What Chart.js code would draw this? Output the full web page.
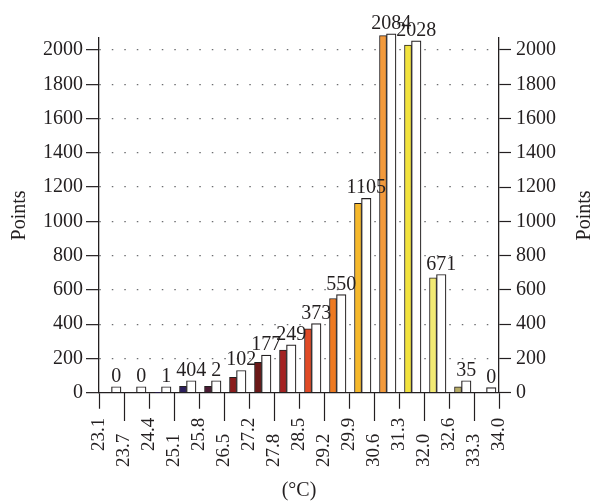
<!DOCTYPE html>
<html>
<head>
<meta charset="utf-8">
<script src="https://cdn.jsdelivr.net/npm/chart.js@4.4.0/dist/chart.umd.min.js"></script>
<style>
    html, body { margin: 0; padding: 0; background: #fff; }
    #grafico-wrap { width: 597px; height: 504px; }
</style>
</head>
<body>
<div id="grafico-wrap"><canvas id="grafico-temperatura"></canvas></div>
<script>
// Limites das faixas de temperatura (eixo x)
let limitesTemperatura = ["23.1", "23.7", "24.4", "25.1", "25.8", "26.5", "27.2", "27.8", "28.5",
    "29.2", "29.9", "30.6", "31.3", "32.0", "32.6", "33.3", "34.0"
];

// Barras coloridas
let pontosCor = [0, 0, 1, 38, 38, 90, 177, 249, 373, 550, 1105, 2084, 2028, 671, 35, 0];

// Barras brancas
let pontosBranco = [35, 35, 35, 70, 70, 130, 220, 280, 403, 573, 1134, 2094, 2053, 690, 70, 30];

// Rótulos escritos sobre as barras
let rotulosBarras = ["0", "0", "1", "404", "2", "102", "177", "249", "373", "550", "1105", "2084", "2028", "671", "35", "0"];

// Cores das barras coloridas
let coresBarras = ["#241a50", "#241a50", "#241a50", "#2c1f5e", "#4a1a32", "#8a1c1c", "#6b1818", "#a42222",
    "#e04a26", "#ee7a22", "#f5b82c", "#f39a3c", "#f1e23e", "#f2ea74", "#b6ab66", "#9a9a70"
];

const corTexto = "#231f20";
const fonteCss = "20px 'Liberation Serif', 'DejaVu Serif', serif";
const fonte = { family: "'Liberation Serif', 'DejaVu Serif', serif", size: 20 };
const fonteX = { family: "'Liberation Serif', 'DejaVu Serif', serif", size: 19 };

// Plugin para escrever os valores acima das barras e o título do eixo direito
const pluginRotulos = {
    id: "rotulosBarras",
    afterDatasetsDraw(chart) {
        const ctx = chart.ctx;
        const metaCor = chart.getDatasetMeta(0);
        const metaBranco = chart.getDatasetMeta(1);
        ctx.save();
        ctx.font = fonteCss;
        ctx.fillStyle = corTexto;
        ctx.textAlign = "center";
        ctx.textBaseline = "alphabetic";
        metaBranco.data.forEach((barra, i) => {
            const topo = Math.min(barra.y, metaCor.data[i].y);
            ctx.fillText(rotulosBarras[i], barra.x, topo - 5);
        });
        ctx.restore();
    },
    afterDraw(chart) {
        // título do eixo direito, lido de baixo para cima como o da esquerda
        const ctx = chart.ctx;
        const area = chart.chartArea;
        ctx.save();
        ctx.font = fonteCss;
        ctx.fillStyle = corTexto;
        ctx.textAlign = "center";
        ctx.textBaseline = "middle";
        ctx.translate(chart.width - 12, (area.top + area.bottom) / 2);
        ctx.rotate(-Math.PI / 2);
        ctx.fillText("Points", 0, 0);
        ctx.restore();
    }
};

// Criando estrutura para plotar gráfico - dados
let dadosTemperatura = {
    datasets: [{
        label: "Cor",
        data: pontosCor.map((v, i) => ({ x: i + 0.5, y: v })),
        backgroundColor: coresBarras,
        borderColor: corTexto,
        borderWidth: 1,
        barThickness: 7,
        clip: false,
        xAxisID: "x",
        yAxisID: "y"
    },
    {
        label: "Branco",
        data: pontosBranco.map((v, i) => ({ x: i + 0.5, y: v })),
        backgroundColor: "#ffffff",
        borderColor: corTexto,
        borderWidth: 1.2,
        barThickness: 9.5,
        clip: false,
        xAxisID: "x",
        yAxisID: "y"
    }]
};

const soPares = s => { s.ticks = s.ticks.filter(t => t.value % 2 === 0); };
const soImpares = s => { s.ticks = s.ticks.filter(t => t.value % 2 === 1); };
const soCentenas = s => { s.ticks = s.ticks.filter(t => t.value % 200 === 0 && t.value <= 2000); };

// Criando estrutura para plotar gráfico - config
const configTemperatura = {
    type: "bar",
    data: dadosTemperatura,
    options: {
        responsive: true,
        maintainAspectRatio: false,
        animation: false,
        layout: { padding: { top: 38, left: 8, right: 36, bottom: 0 } },
        plugins: {
            legend: { display: false },
            tooltip: { enabled: false }
        },
        scales: {
            x: {
                type: "linear",
                position: "bottom",
                min: 0,
                max: 16,
                offset: false,
                afterBuildTicks: soPares,
                ticks: {
                    stepSize: 1, maxTicksLimit: 30, autoSkip: false, minRotation: 90, maxRotation: 90,
                    padding: 9, color: corTexto, font: fonteX,
                    callback: v => limitesTemperatura[v]
                },
                grid: { drawOnChartArea: false, offset: false, tickLength: 16, tickColor: corTexto, tickWidth: 1.2 },
                border: { color: corTexto, width: 1.3 },
                title: { display: true, text: "(°C)", color: corTexto, font: fonte, padding: { top: 19, bottom: 1 } }
            },
            x2: {
                type: "linear",
                axis: "x",
                position: { y: 0 },
                min: 0,
                max: 16,
                offset: false,
                afterBuildTicks: soImpares,
                afterFit: s => { s.height = 0; },
                ticks: {
                    stepSize: 1, maxTicksLimit: 30, autoSkip: false, minRotation: 90, maxRotation: 90,
                    padding: 13, color: corTexto, font: fonteX,
                    callback: v => limitesTemperatura[v]
                },
                grid: { drawOnChartArea: false, offset: false, tickLength: 28, tickColor: corTexto, tickWidth: 1.2 },
                border: { display: false }
            },
            y: {
                position: "left",
                min: 0,
                max: 2070,
                afterBuildTicks: soCentenas,
                ticks: { stepSize: 200, includeBounds: false, padding: 3, color: corTexto, font: fonte, callback: v => String(v) },
                grid: {
                    color: c => (c.tick && c.tick.value === 0) ? "rgba(0,0,0,0)" : "#6d6e71",
                    lineWidth: 1.3,
                    tickLength: 13,
                    tickColor: corTexto,
                    tickWidth: 1.2
                },
                border: { color: corTexto, width: 1.3, dash: [1.5, 11] },
                title: { display: true, text: "Points", color: corTexto, font: fonte, padding: { top: 0, bottom: 8 } }
            },
            y2: {
                position: "right",
                min: 0,
                max: 2070,
                afterBuildTicks: soCentenas,
                ticks: { stepSize: 200, includeBounds: false, padding: 5, color: corTexto, font: fonte, callback: v => String(v) },
                grid: { drawOnChartArea: false, tickLength: 12, tickColor: corTexto, tickWidth: 1.2 },
                border: { color: corTexto, width: 1.3 }
            }
        }
    },
    plugins: [pluginRotulos]
};

// Adicionando gráfico criado em div na tela
let myChartTemperatura = new Chart(
    document.getElementById("grafico-temperatura"),
    configTemperatura
);
</script>
</body>
</html>
